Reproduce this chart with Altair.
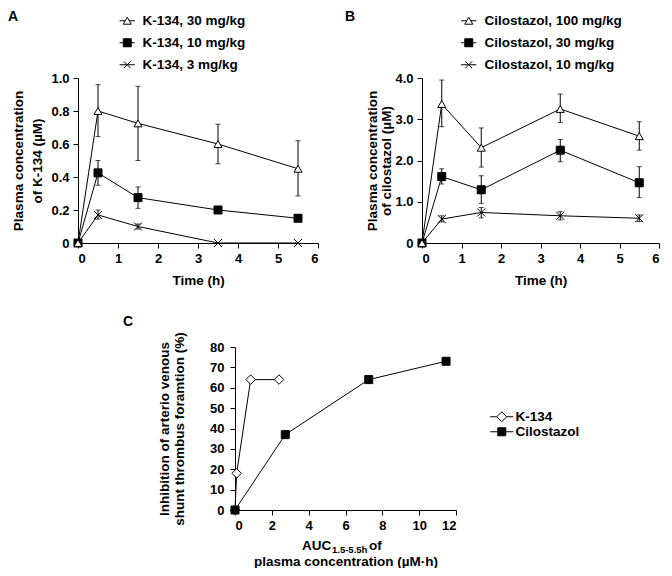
import altair as alt
import pandas as pd

FONT = "Liberation Sans"

time = [0, 0.5, 1.5, 3.5, 5.5]

# ---- Panel A : K-134 ----
a_series = ["K-134, 30 mg/kg", "K-134, 10 mg/kg", "K-134, 3 mg/kg"]
a_mean = [
    [0, 0.80, 0.725, 0.60, 0.45],
    [0, 0.425, 0.275, 0.20, 0.15],
    [0, 0.17, 0.10, 0, 0],
]
a_hi = [
    [0, 0.96, 0.95, 0.72, 0.62],
    [0, 0.50, 0.34, 0.20, 0.15],
    [0, 0.20, 0.115, 0, 0],
]
a_lo = [
    [0, 0.645, 0.50, 0.48, 0.285],
    [0, 0.35, 0.21, 0.20, 0.15],
    [0, 0.145, 0.085, 0, 0],
]

# ---- Panel B : Cilostazol ----
b_series = ["Cilostazol, 100 mg/kg", "Cilostazol, 30 mg/kg", "Cilostazol, 10 mg/kg"]
b_mean = [
    [0, 3.37, 2.31, 3.25, 2.59],
    [0, 1.61, 1.29, 2.25, 1.46],
    [0, 0.58, 0.74, 0.66, 0.60],
]
b_hi = [
    [0, 3.95, 2.79, 3.61, 2.94],
    [0, 1.80, 1.63, 2.51, 1.85],
    [0, 0.66, 0.86, 0.76, 0.68],
]
b_lo = [
    [0, 2.82, 1.84, 2.92, 2.25],
    [0, 1.43, 0.96, 1.97, 1.10],
    [0, 0.51, 0.61, 0.56, 0.52],
]

# ---- Panel C ----
c_series = ["K-134", "Cilostazol"]
c_auc = [
    [0, 0.09, 0.85, 2.39],
    [0, 2.73, 7.26, 11.46],
]
c_inhib = [
    [0, 18, 64, 64],
    [0, 37, 64, 73],
]

X_PATH = "M-1,-1L1,1M-1,1L1,-1"
TRI_LEG = "M-1.9,0H-0.5M0.5,0H1.9M0,-0.866L1,0.866H-1Z"
SQ_LEG = "M-1.9,0H-1M1,0H1.9M-1,-1H1V1H-1Z"
X_LEG = "M-1.9,0H1.9M-0.85,-0.85L0.85,0.85M-0.85,0.85L0.85,-0.85"
DIA_LEG = "M-2.3,0H-1M1,0H2.3M-1,0L0,-1L1,0L0,1Z"
SQC_LEG = "M-2.3,0H-0.8M0.8,0H2.3M-0.8,-0.8H0.8V0.8H-0.8Z"


def long_frame(series, xs, means, his=None, los=None):
    rows = []
    for k in reversed(range(len(series))):
        for i in range(len(means[k])):
            r = {"s": series[k], "t": xs[k][i] if isinstance(xs[0], list) else xs[i],
                 "v": means[k][i]}
            if his is not None:
                r["hi"] = his[k][i]
                r["lo"] = los[k][i]
            rows.append(r)
    return pd.DataFrame(rows)


def label_layer(txt, x, y, size=14):
    return alt.Chart(pd.DataFrame({"a": [0]})).mark_text(
        text=txt, font=FONT, fontSize=size, fontWeight="bold", align="left",
        baseline="alphabetic", color="black"
    ).encode(x=alt.value(x), y=alt.value(y))


def legend_layer(series, paths, fills, leg):
    return alt.Chart(pd.DataFrame({"s": series})).mark_point(
        opacity=0, filled=False, stroke="black", strokeWidth=1).encode(
        x=alt.value(0), y=alt.value(0),
        shape=alt.Shape("s:N", scale=alt.Scale(domain=series, range=paths), legend=leg, sort=series),
        fill=alt.Fill("s:N", scale=alt.Scale(domain=series, range=fills), legend=leg, sort=series),
        stroke=alt.Stroke("s:N", scale=alt.Scale(domain=series, range=["black"] * len(series)),
                          legend=leg, sort=series),
    )


def make_legend(x, y, size, offset, rowpad):
    return alt.Legend(title=None, orient="none", legendX=x, legendY=y,
                      symbolSize=size, symbolStrokeWidth=1, symbolOpacity=1,
                      labelFont=FONT, labelFontSize=13.5, labelFontWeight="bold",
                      labelColor="black", labelOffset=offset, rowPadding=rowpad, padding=0)


def time_panel(series, means, his, los, ymax, yvals, ytitle, ytitle_pad, ytitle_lh,
               leg_x, leg_y, leg_off, panel_txt, panel_x, panel_y, width):
    df = long_frame(series, time, means, his, los)
    err = df[df["hi"] > df["lo"]]
    xax = alt.Axis(values=[0, 1, 2, 3, 4, 5, 6], format="d", title="Time (h)",
                   titlePadding=8, labelOverlap=False)
    xsc = alt.Scale(domain=[0, 6], nice=False)
    yax = alt.Axis(values=yvals, title=ytitle, titlePadding=ytitle_pad,
                   titleLineHeight=ytitle_lh, labelOverlap=False,
                   labelExpr="datum.value == 0 ? '0' : format(datum.value, '.1f')")
    ysc = alt.Scale(domain=[0, ymax], nice=False)

    def X(f):
        return alt.X(f, scale=xsc, axis=xax)

    def Y(f):
        return alt.Y(f, scale=ysc, axis=yax)

    rules = alt.Chart(err).mark_rule(color="black", strokeWidth=1).encode(
        x=X("t:Q"), y=Y("lo:Q"), y2="hi:Q")
    cap_hi = alt.Chart(err).mark_tick(orient="horizontal", size=5, thickness=1, color="black").encode(
        x=X("t:Q"), y=Y("hi:Q"))
    cap_lo = alt.Chart(err).mark_tick(orient="horizontal", size=5, thickness=1, color="black").encode(
        x=X("t:Q"), y=Y("lo:Q"))
    lines = alt.Chart(df).mark_line(color="black", strokeWidth=1).encode(
        x=X("t:Q"), y=Y("v:Q"), detail="s:N")
    pts = alt.Chart(df).mark_point(stroke="black", strokeWidth=1, opacity=1, filled=False).encode(
        x=X("t:Q"), y=Y("v:Q"),
        shape=alt.Shape("s:N", scale=alt.Scale(domain=series, range=["triangle-up", "square", X_PATH]),
                        legend=None),
        fill=alt.Fill("s:N", scale=alt.Scale(domain=series, range=["white", "black", "black"]),
                      legend=None),
        size=alt.value(64),
    )
    leg = make_legend(leg_x, leg_y, 64, leg_off, 7)
    leg_lay = legend_layer(series, [TRI_LEG, SQ_LEG, X_LEG], ["white", "black", "black"], leg)
    lab = label_layer(panel_txt, panel_x, panel_y)
    return alt.layer(rules, cap_hi, cap_lo, lines, pts, leg_lay, lab).resolve_scale(
        shape="independent", fill="independent", stroke="independent").properties(width=width, height=165)


chart_a = time_panel(a_series, a_mean, a_hi, a_lo, 1.0, [0, 0.2, 0.4, 0.6, 0.8, 1.0],
                     ["Plasma concentration", "of K-134 (\u00b5M)"], 6, 19,
                     42.5, -64, 8.5, "A", -70, -57, 240)
chart_b = time_panel(b_series, b_mean, b_hi, b_lo, 4.0, [0, 1, 2, 3, 4],
                     ["Plasma concentration", "of cilostazol (\u00b5M)"], 1, 14,
                     40, -64, 9, "B", -77, -57, 237)

# ---- Panel C chart ----
dfc = long_frame(c_series, c_auc, c_inhib)
dfc = pd.concat([dfc[dfc["s"] == "K-134"], dfc[dfc["s"] == "Cilostazol"]])
cxax = alt.Axis(values=[0, 2, 4, 6, 8, 10, 12], format="d", labelOverlap=False,
                title="plasma concentration (\u00b5M\u00b7h)", titlePadding=22)
cyax = alt.Axis(values=[0, 10, 20, 30, 40, 50, 60, 70, 80], format="d", labelOverlap=False,
                title=["Inhibition of arterio venous", "shunt thrombus foramtion (%)"],
                titlePadding=23, titleLineHeight=15, labelPadding=6)
cxsc = alt.Scale(domain=[0, 12], nice=False)
cysc = alt.Scale(domain=[0, 80], nice=False)
c_lines = alt.Chart(dfc).mark_line(color="black", strokeWidth=1).encode(
    x=alt.X("t:Q", scale=cxsc, axis=cxax), y=alt.Y("v:Q", scale=cysc, axis=cyax), detail="s:N")
c_pts = alt.Chart(dfc).mark_point(stroke="black", strokeWidth=1, opacity=1, filled=False).encode(
    x=alt.X("t:Q", scale=cxsc, axis=cxax), y=alt.Y("v:Q", scale=cysc, axis=cyax),
    shape=alt.Shape("s:N", scale=alt.Scale(domain=c_series, range=["diamond", "square"]), legend=None),
    fill=alt.Fill("s:N", scale=alt.Scale(domain=c_series, range=["white", "black"]), legend=None),
    size=alt.Size("s:N", scale=alt.Scale(domain=c_series, range=[90, 64]), legend=None),
)
c_leg = make_legend(260, 63, 100, 7, 0)
c_leg_lay = legend_layer(c_series, [DIA_LEG, SQC_LEG], ["white", "black"], c_leg)
auc_main = label_layer("AUC", 67, 203, 13.5)
auc_sub = label_layer("1.5-5.5h", 97, 206, 9.5)
auc_of = label_layer("of", 134, 203, 13.5)
c_lab = label_layer("C", -112, -21)

chart_c = alt.layer(c_lines, c_pts, c_leg_lay, auc_main, auc_sub, auc_of, c_lab).resolve_scale(
    shape="independent", fill="independent", stroke="independent", size="independent"
).properties(width=221, height=163)

spacer = alt.Chart(pd.DataFrame({"a": [0]})).mark_rule(opacity=0).encode(
    x=alt.value(0), x2=alt.value(40), y=alt.value(0)).properties(width=40, height=10)

top = alt.hconcat(chart_a, chart_b, spacing=26)
bottom = alt.hconcat(spacer, chart_c, spacing=5)
chart = alt.vconcat(top, bottom, spacing=28).properties(
    padding={"left": 0, "top": 2, "right": 0, "bottom": 0}
).configure_axis(
    domainColor="black", domainWidth=1, tickColor="black", tickWidth=1, tickSize=5,
    labelFont=FONT, labelFontSize=13, labelFontWeight="bold", labelColor="black",
    titleFont=FONT, titleFontSize=13.5, titleFontWeight="bold", titleColor="black",
    grid=False, labelPadding=4, labelOverlap=False
).configure_view(stroke=None)

chart.save("out.html", embed_options={"renderer": "svg", "actions": False})
